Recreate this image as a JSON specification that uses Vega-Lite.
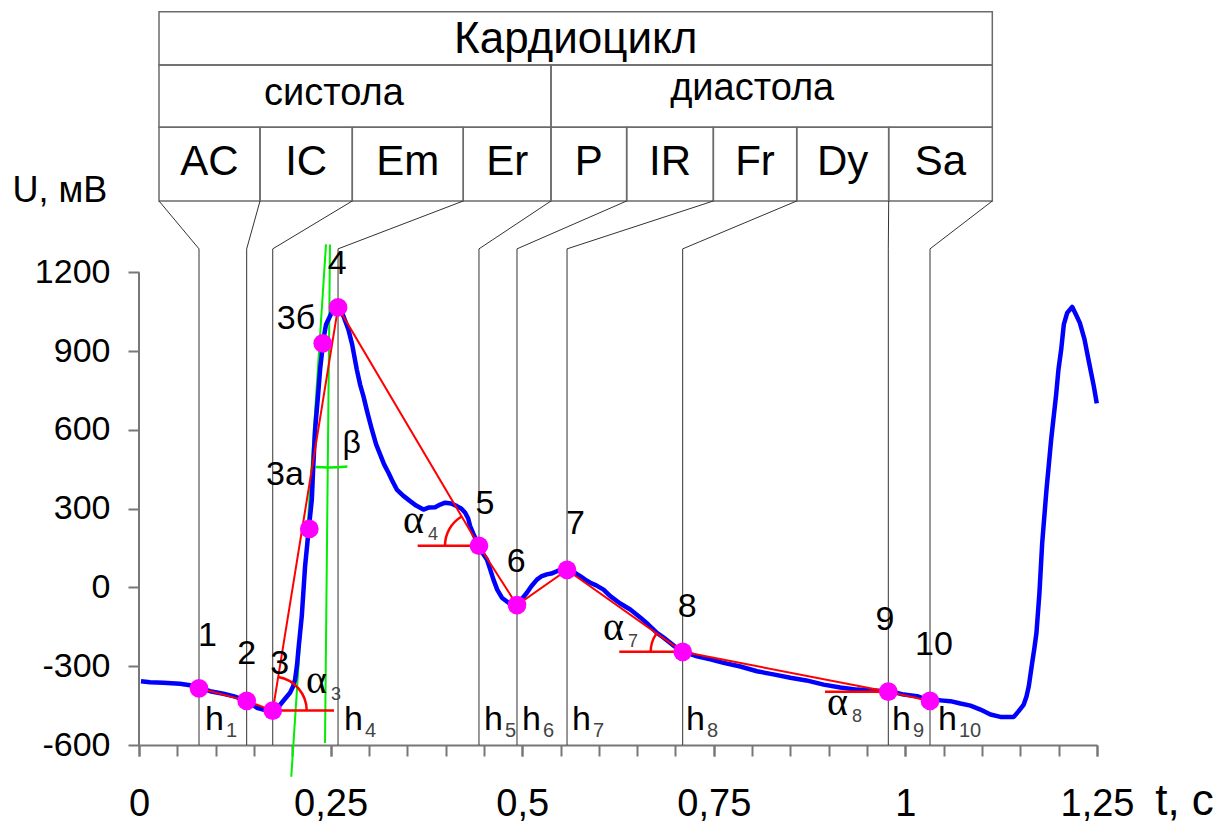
{
  "$schema": "https://vega.github.io/schema/vega-lite/v6.json",
  "width": 958,
  "height": 740,
  "autosize": {"type": "none"},
  "padding": {"left": 139, "top": 5, "right": 132, "bottom": 80},
  "background": "white",
  "config": {
    "view": {"stroke": null},
    "font": "Liberation Sans",
    "text": {"font": "Liberation Sans", "color": "black"},
    "axis": {"labelFont": "Liberation Sans", "labelColor": "black", "grid": false}
  },
  "resolve": {"axis": {"x": "independent"}},
  "datasets": {
    "curve": [
      {"t":0.0026,"U":-357},{"t":0.0144,"U":-361},{"t":0.0317,"U":-363},{"t":0.0535,"U":-367},{"t":0.0666,"U":-372},{"t":0.0783,"U":-381},{"t":0.0927,"U":-395},{"t":0.1101,"U":-405},{"t":0.1231,"U":-414},{"t":0.1397,"U":-430},{"t":0.1537,"U":-458},{"t":0.1645,"U":-467},{"t":0.1736,"U":-469},{"t":0.1802,"U":-461},{"t":0.1863,"U":-439},{"t":0.1919,"U":-419},{"t":0.1971,"U":-401},{"t":0.2010,"U":-377},{"t":0.2037,"U":-350},{"t":0.2063,"U":-293},{"t":0.2080,"U":-236},{"t":0.2124,"U":-109},{"t":0.2167,"U":81},{"t":0.2210,"U":208},{"t":0.2255,"U":335},{"t":0.2272,"U":450},{"t":0.2298,"U":602},{"t":0.2337,"U":735},{"t":0.2363,"U":830},{"t":0.2406,"U":945},{"t":0.2441,"U":1002},{"t":0.2493,"U":1034},{"t":0.2533,"U":1059},{"t":0.2581,"U":1074},{"t":0.2624,"U":1063},{"t":0.2667,"U":1034},{"t":0.2732,"U":983},{"t":0.2781,"U":926},{"t":0.2842,"U":830},{"t":0.2885,"U":773},{"t":0.2928,"U":729},{"t":0.2977,"U":670},{"t":0.3038,"U":602},{"t":0.3094,"U":545},{"t":0.3146,"U":507},{"t":0.3198,"U":469},{"t":0.3255,"U":437},{"t":0.3303,"U":408},{"t":0.3364,"U":373},{"t":0.3446,"U":350},{"t":0.3538,"U":329},{"t":0.3616,"U":312},{"t":0.3712,"U":297},{"t":0.3786,"U":305},{"t":0.3864,"U":306},{"t":0.3930,"U":316},{"t":0.3995,"U":323},{"t":0.4073,"U":320},{"t":0.4148,"U":310},{"t":0.4204,"U":301},{"t":0.4256,"U":285},{"t":0.4295,"U":263},{"t":0.4321,"U":234},{"t":0.4373,"U":198},{"t":0.4430,"U":161},{"t":0.4478,"U":133},{"t":0.4539,"U":107},{"t":0.4582,"U":69},{"t":0.4625,"U":30},{"t":0.4674,"U":-8},{"t":0.4735,"U":-39},{"t":0.4817,"U":-57},{"t":0.4922,"U":-65},{"t":0.4987,"U":-46},{"t":0.5061,"U":-20},{"t":0.5117,"U":4},{"t":0.5192,"U":30},{"t":0.5248,"U":42},{"t":0.5322,"U":50},{"t":0.5379,"U":53},{"t":0.5453,"U":62},{"t":0.5522,"U":69},{"t":0.5604,"U":69},{"t":0.5679,"U":57},{"t":0.5757,"U":43},{"t":0.5822,"U":30},{"t":0.5888,"U":18},{"t":0.5966,"U":8},{"t":0.6061,"U":-8},{"t":0.6149,"U":-33},{"t":0.6279,"U":-61},{"t":0.6410,"U":-84},{"t":0.6540,"U":-114},{"t":0.6645,"U":-141},{"t":0.6758,"U":-173},{"t":0.6841,"U":-190},{"t":0.6932,"U":-211},{"t":0.7010,"U":-229},{"t":0.7072,"U":-243},{"t":0.7167,"U":-251},{"t":0.7281,"U":-262},{"t":0.7454,"U":-274},{"t":0.7628,"U":-287},{"t":0.7846,"U":-301},{"t":0.8064,"U":-319},{"t":0.8277,"U":-331},{"t":0.8499,"U":-344},{"t":0.8708,"U":-354},{"t":0.8933,"U":-370},{"t":0.9151,"U":-381},{"t":0.9369,"U":-389},{"t":0.9569,"U":-392},{"t":0.9761,"U":-395},{"t":0.9869,"U":-400},{"t":0.9978,"U":-408},{"t":1.0153,"U":-414},{"t":1.0304,"U":-430},{"t":1.0457,"U":-430},{"t":1.0587,"U":-433},{"t":1.0718,"U":-442},{"t":1.0849,"U":-450},{"t":1.0979,"U":-465},{"t":1.1110,"U":-484},{"t":1.1240,"U":-493},{"t":1.1414,"U":-493},{"t":1.1475,"U":-472},{"t":1.1544,"U":-446},{"t":1.1580,"U":-415},{"t":1.1610,"U":-376},{"t":1.1654,"U":-287},{"t":1.1684,"U":-229},{"t":1.1710,"U":-173},{"t":1.1749,"U":-20},{"t":1.1785,"U":170},{"t":1.1841,"U":373},{"t":1.1902,"U":564},{"t":1.1967,"U":735},{"t":1.1997,"U":830},{"t":1.2033,"U":907},{"t":1.2067,"U":1002},{"t":1.2111,"U":1046},{"t":1.2176,"U":1069},{"t":1.2219,"U":1044},{"t":1.2276,"U":1008},{"t":1.2337,"U":945},{"t":1.2393,"U":862},{"t":1.2458,"U":767},{"t":1.2497,"U":701}
    ],
    "points": [
      {"id":"1","t":0.0783,"U":-384,"main":true},
      {"id":"2","t":0.1405,"U":-432,"main":true},
      {"id":"3","t":0.1745,"U":-469,"main":true},
      {"id":"3а","t":0.2222,"U":223,"main":false},
      {"id":"3б","t":0.2397,"U":930,"main":false},
      {"id":"4","t":0.2597,"U":1067,"main":true},
      {"id":"5","t":0.4436,"U":159,"main":true},
      {"id":"6","t":0.4932,"U":-67,"main":true},
      {"id":"7","t":0.5585,"U":67,"main":true},
      {"id":"8","t":0.7094,"U":-245,"main":true},
      {"id":"9","t":0.9777,"U":-397,"main":true},
      {"id":"10","t":1.0321,"U":-432,"main":true}
    ],
    "blocks": [
      {"name":"Кардиоцикл","row":1,"t":0.0261,"t2":1.1134},
      {"name":"систола","row":2,"t":0.0261,"t2":0.5376},
      {"name":"диастола","row":2,"t":0.5376,"t2":1.1134}
    ],
    "captions": [
      {"text":"Кардиоцикл","t":0.5699,"U":2035},
      {"text":"систола","t":0.2544,"U":1838},
      {"text":"диастола","t":0.8001,"U":1857}
    ],
    "phases": [
      {"name":"AC","t":0.0261,"t2":0.1579},
      {"name":"IC","t":0.1579,"t2":0.2783},
      {"name":"Em","t":0.2783,"t2":0.4231},
      {"name":"Er","t":0.4231,"t2":0.5376},
      {"name":"P","t":0.5376,"t2":0.6363},
      {"name":"IR","t":0.6363,"t2":0.7494},
      {"name":"Fr","t":0.7494,"t2":0.8582},
      {"name":"Dy","t":0.8582,"t2":0.9782},
      {"name":"Sa","t":0.9782,"t2":1.1134}
    ],
    "links": [
      {"t":0.0261,"t2":0.0783},{"t":0.1579,"t2":0.1405},{"t":0.2783,"t2":0.1745},{"t":0.4231,"t2":0.2597},{"t":0.5376,"t2":0.4436},
      {"t":0.6363,"t2":0.4932},{"t":0.7494,"t2":0.5585},{"t":0.8582,"t2":0.7094},{"t":0.9782,"t2":0.9777},{"t":1.1134,"t2":1.0321}
    ],
    "tags": [
      {"text":"1","t":0.0894,"U":-177},{"text":"2","t":0.1405,"U":-245},{"text":"3","t":0.1836,"U":-283},
      {"text":"3а","t":0.1905,"U":438},{"text":"3б","t":0.2049,"U":1032},{"text":"4","t":0.2587,"U":1241},
      {"text":"5","t":0.4515,"U":326},{"text":"6","t":0.4923,"U":105},{"text":"7","t":0.5695,"U":251},
      {"text":"8","t":0.7154,"U":-67},{"text":"9","t":0.9734,"U":-117},{"text":"10","t":1.0373,"U":-210}
    ],
    "heights": [
      {"sub":"1","t":0.0861,"U":-543},{"sub":"4","t":0.2675,"U":-543},{"sub":"5","t":0.4501,"U":-543},{"sub":"6","t":0.4997,"U":-543},
      {"sub":"7","t":0.5650,"U":-543},{"sub":"8","t":0.7137,"U":-543},{"sub":"9","t":0.9825,"U":-543},{"sub":"10","t":1.0425,"U":-543}
    ],
    "angles": [
      {"sub":"3","t":0.2179,"U":-402},{"sub":"4","t":0.3445,"U":208},{"sub":"7","t":0.6054,"U":-200},{"sub":"8","t":0.8977,"U":-486}
    ],
    "baselines": [
      {"t":0.1745,"t2":0.2544,"U":-469},{"t":0.3636,"t2":0.4436,"U":159},{"t":0.6267,"t2":0.7094,"U":-245},{"t":0.8951,"t2":0.9777,"U":-397}
    ],
    "tangents": [
      {"t":0.2492,"U":1307,"t2":0.2427,"U2":-592},
      {"t":0.2440,"U":1307,"t2":0.1987,"U2":-721}
    ]
  },
  "layer": [
    {
      "data": {"name": "blocks"},
      "transform": [{"filter": "datum.row == 1"}],
      "mark": {"type": "rect", "filled": false, "stroke": "#6b6b6b", "strokeWidth": 1.5},
      "encoding": {
        "x": {"field": "t", "type": "quantitative", "scale": {"domain": [0, 1.25], "nice": false, "zero": false}, "axis": null},
        "x2": {"field": "t2"},
        "y": {"datum": 2193.5, "type": "quantitative", "scale": {"domain": [-600, 2219], "nice": false, "zero": false}},
        "y2": {"datum": 1990.5}
      }
    },
    {
      "data": {"name": "blocks"},
      "transform": [{"filter": "datum.row == 2"}],
      "mark": {"type": "rect", "filled": false, "stroke": "#6b6b6b", "strokeWidth": 1.5},
      "encoding": {
        "x": {"field": "t", "type": "quantitative", "scale": {"domain": [0, 1.25], "nice": false, "zero": false}, "axis": null},
        "x2": {"field": "t2"},
        "y": {"datum": 1990.5, "type": "quantitative", "scale": {"domain": [-600, 2219], "nice": false, "zero": false}},
        "y2": {"datum": 1753}
      }
    },
    {
      "data": {"name": "phases"},
      "mark": {"type": "rect", "filled": false, "stroke": "#6b6b6b", "strokeWidth": 1.5},
      "encoding": {
        "x": {"field": "t", "type": "quantitative", "scale": {"domain": [0, 1.25], "nice": false, "zero": false}, "axis": null},
        "x2": {"field": "t2"},
        "y": {"datum": 1753, "type": "quantitative", "scale": {"domain": [-600, 2219], "nice": false, "zero": false}},
        "y2": {"datum": 1472.4}
      }
    },
    {
      "data": {"name": "captions"},
      "mark": {"type": "text", "align": "center", "baseline": "alphabetic"},
      "encoding": {
        "x": {"field": "t", "type": "quantitative", "scale": {"domain": [0, 1.25], "nice": false, "zero": false}, "axis": null},
        "y": {"field": "U", "type": "quantitative", "scale": {"domain": [-600, 2219], "nice": false, "zero": false}},
        "text": {"field": "text"},
        "size": {"condition": {"test": "datum.text == 'Кардиоцикл'", "value": 44}, "value": 38}
      }
    },
    {
      "data": {"name": "phases"},
      "transform": [{"calculate": "(datum.t + datum.t2) / 2", "as": "mid"}],
      "mark": {"type": "text", "align": "center", "baseline": "alphabetic", "fontSize": 42},
      "encoding": {
        "x": {"field": "mid", "type": "quantitative", "scale": {"domain": [0, 1.25], "nice": false, "zero": false}, "axis": null},
        "y": {"datum": 1571, "type": "quantitative", "scale": {"domain": [-600, 2219], "nice": false, "zero": false}},
        "text": {"field": "name"}
      }
    },
    {
      "data": {"name": "links"},
      "mark": {"type": "rule", "color": "#333333", "strokeWidth": 1},
      "encoding": {
        "x": {"field": "t", "type": "quantitative", "scale": {"domain": [0, 1.25], "nice": false, "zero": false}, "axis": null},
        "x2": {"field": "t2"},
        "y": {"datum": 1472.4, "type": "quantitative", "scale": {"domain": [-600, 2219], "nice": false, "zero": false}},
        "y2": {"datum": 1290}
      }
    },
    {
      "data": {"name": "links"},
      "mark": {"type": "rule", "color": "#333333", "strokeWidth": 1},
      "encoding": {
        "x": {"field": "t2", "type": "quantitative", "scale": {"domain": [0, 1.25], "nice": false, "zero": false}, "axis": null},
        "y": {"datum": 1290, "type": "quantitative", "scale": {"domain": [-600, 2219], "nice": false, "zero": false}},
        "y2": {"datum": -600}
      }
    },
    {
      "data": {"values": [{}]},
      "mark": {"type": "rule", "color": "#777777", "strokeWidth": 2},
      "encoding": {
        "x": {"datum": 0, "type": "quantitative", "scale": {"domain": [0, 1.25], "nice": false, "zero": false}, "axis": null},
        "y": {"datum": -600, "type": "quantitative", "scale": {"domain": [-600, 2219], "nice": false, "zero": false}},
        "y2": {"datum": 1200}
      }
    },
    {
      "data": {"name": "tangents"},
      "mark": {"type": "rule", "color": "#00ee00", "strokeWidth": 2},
      "encoding": {
        "x": {"field": "t", "type": "quantitative", "scale": {"domain": [0, 1.25], "nice": false, "zero": false}, "axis": null},
        "x2": {"field": "t2"},
        "y": {"field": "U", "type": "quantitative", "scale": {"domain": [-600, 2219], "nice": false, "zero": false}},
        "y2": {"field": "U2"}
      }
    },
    {
      "data": {"values": [{}]},
      "mark": {"type": "arc", "filled": false, "stroke": "#00ee00", "strokeWidth": 2.5, "radius": 223, "radius2": 223, "theta": 3.0545, "theta2": 3.1964},
      "encoding": {
        "x": {"datum": 0.2466, "type": "quantitative", "scale": {"domain": [0, 1.25], "nice": false, "zero": false}, "axis": null},
        "y": {"datum": 1307, "type": "quantitative", "scale": {"domain": [-600, 2219], "nice": false, "zero": false}}
      }
    },
    {
      "data": {"name": "curve"},
      "mark": {"type": "line", "color": "#0000ff", "strokeWidth": 4.5, "strokeJoin": "round"},
      "encoding": {
        "x": {
          "field": "t", "type": "quantitative",
          "scale": {"domain": [0, 1.25], "nice": false, "zero": false},
          "axis": {
            "orient": "bottom", "title": null,
            "values": [0, 0.25, 0.5, 0.75, 1, 1.25],
            "labelExpr": "replace(toString(datum.value), '.', ',')",
            "labelOverlap": false, "labelFlush": false, "labelBound": false,
            "labelFontSize": 38, "labelPadding": 29,
            "tickSize": 11, "tickColor": "#777777", "tickWidth": 2,
            "domainColor": "#777777", "domainWidth": 2
          }
        },
        "y": {
          "field": "U", "type": "quantitative",
          "scale": {"domain": [-600, 2219], "nice": false, "zero": false},
          "axis": {
            "title": null,
            "values": [-600, -300, 0, 300, 600, 900, 1200],
            "labelExpr": "toString(datum.value)",
            "domain": false, "labelFlush": false, "labelOverlap": false,
            "labelFontSize": 34, "labelPadding": 18,
            "tickSize": 11, "tickColor": "#777777", "tickWidth": 2
          }
        }
      }
    },
    {
      "data": {"name": "points"},
      "transform": [{"filter": "datum.main"}],
      "mark": {"type": "line", "color": "#ff0000", "strokeWidth": 2},
      "encoding": {
        "x": {
          "field": "t", "type": "quantitative",
          "scale": {"domain": [0, 1.25], "nice": false, "zero": false},
          "axis": {
            "orient": "bottom", "title": null,
            "values": [0,0.05,0.1,0.15,0.2,0.25,0.3,0.35,0.4,0.45,0.5,0.55,0.6,0.65,0.7,0.75,0.8,0.85,0.9,0.95,1,1.05,1.1,1.15,1.2,1.25],
            "labels": false, "domain": false,
            "tickSize": 11, "tickColor": "#777777", "tickWidth": 2
          }
        },
        "y": {"field": "U", "type": "quantitative", "scale": {"domain": [-600, 2219], "nice": false, "zero": false}}
      }
    },
    {
      "data": {"name": "baselines"},
      "mark": {"type": "rule", "color": "#ff0000", "strokeWidth": 2.5},
      "encoding": {
        "x": {"field": "t", "type": "quantitative", "scale": {"domain": [0, 1.25], "nice": false, "zero": false}, "axis": null},
        "x2": {"field": "t2"},
        "y": {"field": "U", "type": "quantitative", "scale": {"domain": [-600, 2219], "nice": false, "zero": false}}
      }
    },
    {
      "data": {"name": "points"},
      "transform": [{"filter": "datum.id == '3'"}],
      "mark": {"type": "arc", "filled": false, "stroke": "#ff0000", "strokeWidth": 2.5, "radius": 34, "radius2": 34, "theta": 0.16, "theta2": 1.5708},
      "encoding": {
        "x": {"field": "t", "type": "quantitative", "scale": {"domain": [0, 1.25], "nice": false, "zero": false}, "axis": null},
        "y": {"field": "U", "type": "quantitative", "scale": {"domain": [-600, 2219], "nice": false, "zero": false}}
      }
    },
    {
      "data": {"name": "points"},
      "transform": [{"filter": "datum.id == '5'"}],
      "mark": {"type": "arc", "filled": false, "stroke": "#ff0000", "strokeWidth": 2.5, "radius": 34, "radius2": 34, "theta": 4.7124, "theta2": 5.75},
      "encoding": {
        "x": {"field": "t", "type": "quantitative", "scale": {"domain": [0, 1.25], "nice": false, "zero": false}, "axis": null},
        "y": {"field": "U", "type": "quantitative", "scale": {"domain": [-600, 2219], "nice": false, "zero": false}}
      }
    },
    {
      "data": {"name": "points"},
      "transform": [{"filter": "datum.id == '8'"}],
      "mark": {"type": "arc", "filled": false, "stroke": "#ff0000", "strokeWidth": 2.5, "radius": 32, "radius2": 32, "theta": 4.7124, "theta2": 5.3},
      "encoding": {
        "x": {"field": "t", "type": "quantitative", "scale": {"domain": [0, 1.25], "nice": false, "zero": false}, "axis": null},
        "y": {"field": "U", "type": "quantitative", "scale": {"domain": [-600, 2219], "nice": false, "zero": false}}
      }
    },
    {
      "data": {"name": "points"},
      "mark": {"type": "circle", "color": "#ff00ff", "size": 350, "opacity": 1},
      "encoding": {
        "x": {"field": "t", "type": "quantitative", "scale": {"domain": [0, 1.25], "nice": false, "zero": false}, "axis": null},
        "y": {"field": "U", "type": "quantitative", "scale": {"domain": [-600, 2219], "nice": false, "zero": false}}
      }
    },
    {
      "data": {"name": "tags"},
      "mark": {"type": "text", "align": "center", "baseline": "middle", "fontSize": 34, "dy": 2},
      "encoding": {
        "x": {"field": "t", "type": "quantitative", "scale": {"domain": [0, 1.25], "nice": false, "zero": false}, "axis": null},
        "y": {"field": "U", "type": "quantitative", "scale": {"domain": [-600, 2219], "nice": false, "zero": false}},
        "text": {"field": "text"}
      }
    },
    {
      "data": {"name": "heights"},
      "mark": {"type": "text", "align": "left", "baseline": "alphabetic", "fontSize": 34},
      "encoding": {
        "x": {"field": "t", "type": "quantitative", "scale": {"domain": [0, 1.25], "nice": false, "zero": false}, "axis": null},
        "y": {"field": "U", "type": "quantitative", "scale": {"domain": [-600, 2219], "nice": false, "zero": false}},
        "text": {"value": "h"}
      }
    },
    {
      "data": {"name": "heights"},
      "mark": {"type": "text", "align": "left", "baseline": "alphabetic", "fontSize": 20, "dx": 21, "dy": 7, "color": "#444444"},
      "encoding": {
        "x": {"field": "t", "type": "quantitative", "scale": {"domain": [0, 1.25], "nice": false, "zero": false}, "axis": null},
        "y": {"field": "U", "type": "quantitative", "scale": {"domain": [-600, 2219], "nice": false, "zero": false}},
        "text": {"field": "sub"}
      }
    },
    {
      "data": {"name": "angles"},
      "mark": {"type": "text", "align": "left", "baseline": "alphabetic", "fontSize": 40, "font": "Liberation Serif"},
      "encoding": {
        "x": {"field": "t", "type": "quantitative", "scale": {"domain": [0, 1.25], "nice": false, "zero": false}, "axis": null},
        "y": {"field": "U", "type": "quantitative", "scale": {"domain": [-600, 2219], "nice": false, "zero": false}},
        "text": {"value": "α"}
      }
    },
    {
      "data": {"name": "angles"},
      "mark": {"type": "text", "align": "left", "baseline": "alphabetic", "fontSize": 18, "dx": 25, "dy": 7, "color": "#444444"},
      "encoding": {
        "x": {"field": "t", "type": "quantitative", "scale": {"domain": [0, 1.25], "nice": false, "zero": false}, "axis": null},
        "y": {"field": "U", "type": "quantitative", "scale": {"domain": [-600, 2219], "nice": false, "zero": false}},
        "text": {"field": "sub"}
      }
    },
    {
      "data": {"values": [{"text": "β", "t": 0.2776, "U": 512, "size": 32}, {"text": "U, мВ", "t": -0.1031, "U": 1470, "size": 36}, {"text": "t, c", "t": 1.3642, "U": -867, "size": 44}]},
      "mark": {"type": "text", "align": "center", "baseline": "alphabetic"},
      "encoding": {
        "x": {"field": "t", "type": "quantitative", "scale": {"domain": [0, 1.25], "nice": false, "zero": false}, "axis": null},
        "y": {"field": "U", "type": "quantitative", "scale": {"domain": [-600, 2219], "nice": false, "zero": false}},
        "text": {"field": "text"},
        "size": {"field": "size", "type": "quantitative", "scale": null}
      }
    }
  ]
}
